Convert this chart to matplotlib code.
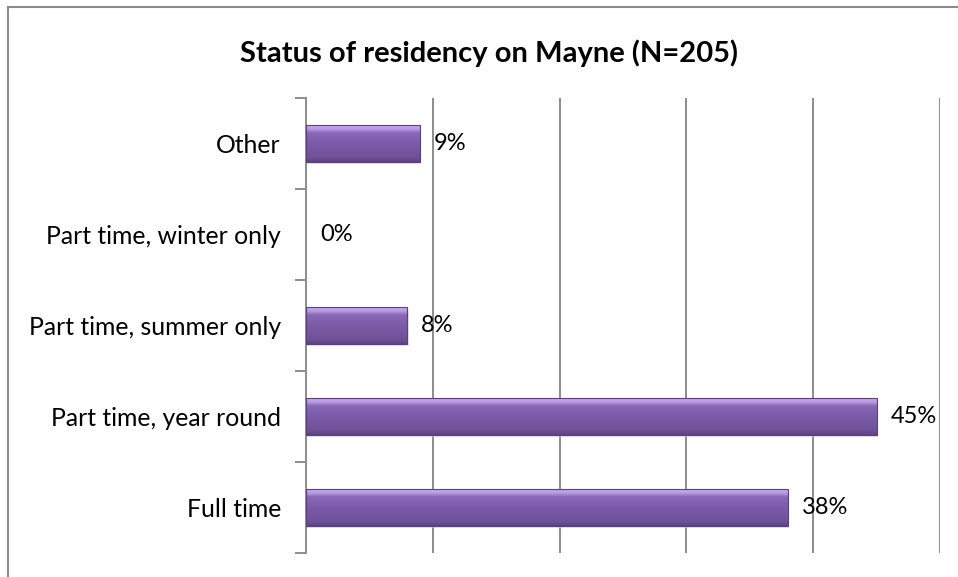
import matplotlib
matplotlib.use("Agg")
import matplotlib.pyplot as plt
import numpy as np
from matplotlib.lines import Line2D
from matplotlib.colors import LinearSegmentedColormap

categories = ["Full time", "Part time, year round", "Part time, summer only",
              "Part time, winter only", "Other"]
values = [38, 45, 8, 0, 9]
value_labels = ["38%", "45%", "8%", "0%", "9%"]
title = "Status of residency on Mayne (N=205)"

plt.rcParams['font.family'] = ['Lato', 'DejaVu Sans']

fig = plt.figure(figsize=(9.58, 5.77), dpi=100)
ax = fig.add_axes([0.3194, 0.0416, 0.9812 - 0.3194, 0.8302 - 0.0416])

# figure border (left and top)
fig.add_artist(Line2D([0.0085, 0.0085], [0, 0.988], transform=fig.transFigure, color='#8c8c8c', lw=1.5))
fig.add_artist(Line2D([0.0085, 1.0], [0.988, 0.988], transform=fig.transFigure, color='#8c8c8c', lw=1.5))

# gridlines
for gx in [10, 20, 30, 40, 50]:
    ax.axvline(gx, color='#8c8c8c', lw=1.4, zorder=0.5)

h = 0.4
grad = np.linspace(0, 1, 64).reshape(-1, 1)
cmap = LinearSegmentedColormap.from_list(
    'bev', [(0.0, '#5e4383'), (0.12, '#6f519a'), (0.5, '#7b5ba8'),
            (0.8, '#8a6ab8'), (0.9, '#b99ae4'), (1.0, '#c7abef')])
for i, v in enumerate(values):
    if v > 0:
        ax.barh(i - 0.03, v, height=h, left=0.1, color='#d8d0e2', zorder=1, alpha=0.6)
        ax.imshow(grad, extent=(0, v, i - h / 2, i + h / 2), origin='lower',
                  cmap=cmap, aspect='auto', zorder=2)
        ax.barh(i, v, height=h, facecolor='none', edgecolor='#5a4080', lw=0.8, zorder=3)
    ax.text(v + 1.1, i, value_labels[i], va='center', ha='left', fontsize=17, color='black', zorder=4)

ax.set_aspect('auto')
ax.set_ylim(-0.5, len(categories) - 0.5)
ax.set_xlim(0, 50)

ax.set_yticks(range(len(categories)))
ax.set_yticklabels(categories, fontsize=17.8)
ax.set_yticks(np.arange(-0.5, len(categories), 1), minor=True)
ax.tick_params(axis='y', which='major', length=0, pad=18)
ax.tick_params(axis='y', which='minor', length=8, width=1.4, color='#8c8c8c', direction='out')
ax.set_xticks([])
for s in ['top', 'right', 'bottom']:
    ax.spines[s].set_visible(False)
ax.spines['left'].set_color('#8c8c8c')
ax.spines['left'].set_linewidth(1.4)

fig.text(0.510, 0.908, title, ha='center', va='center', fontsize=21, fontweight='bold')

fig.savefig('out.png', dpi=100, facecolor='white')
